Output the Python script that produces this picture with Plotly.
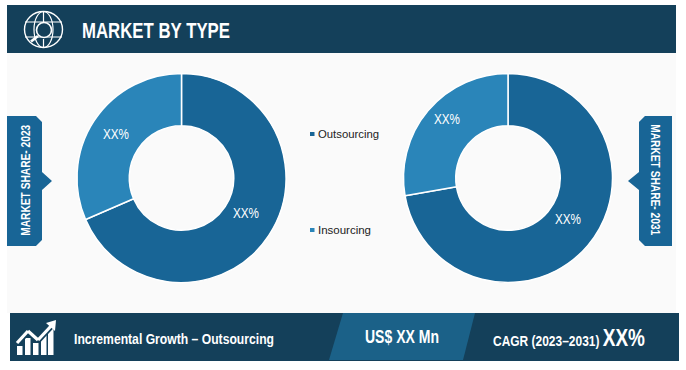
import json
import plotly.graph_objects as go

W, H = 686, 370
categories = ["Outsourcing", "Insourcing"]
share_2023 = [68.5, 31.5]
share_2031 = [72.3, 27.7]
slice_labels = ["XX%", "XX%"]
title_text = "MARKET BY TYPE"
left_tag = "MARKET SHARE- 2023"
right_tag = "MARKET SHARE- 2031"
bar_left = "Incremental Growth – Outsourcing"
bar_mid = "US$ XX Mn"
bar_cagr = "CAGR (2023–2031)"
bar_cagr_val = "XX%"

NAVY = "#14405a"
MID = "#1b6188"
DARK = "#186596"
LIGHT = "#2a85b9"
FONT = "Liberation Sans, Arial"

def px(x): return x / W
def py(y): return 1 - y / H
def path(pts):
    return "M" + " L".join(f"{px(x):.5f},{py(y):.5f}" for x, y in pts) + " Z"

shapes = []
def poly(pts, color, layer="below"):
    shapes.append(dict(type="path", xref="paper", yref="paper", path=path(pts),
                       fillcolor=color, line=dict(width=0), layer=layer))
def rect(x0, y0, x1, y1, color, layer="below"):
    shapes.append(dict(type="rect", xref="paper", yref="paper", x0=px(x0), x1=px(x1),
                       y0=py(y0), y1=py(y1), fillcolor=color, line=dict(width=0), layer=layer))
def line(x0, y0, x1, y1, w=1.4, color="white"):
    shapes.append(dict(type="line", xref="paper", yref="paper", x0=px(x0), x1=px(x1),
                       y0=py(y0), y1=py(y1), line=dict(color=color, width=w), layer="above"))
def ell(cx, cy, rx, ry, w=1.4, fill="rgba(0,0,0,0)"):
    shapes.append(dict(type="circle", xref="paper", yref="paper", x0=px(cx-rx), x1=px(cx+rx),
                       y0=py(cy-ry), y1=py(cy+ry), line=dict(color="white", width=w),
                       fillcolor=fill, layer="above"))

# panel, header, footer
rect(7, 53, 676, 313, "#fafafa")
rect(7, 5, 676, 53, NAVY)
rect(10, 313, 679, 361, NAVY)
poly([(343, 313), (475, 313), (463, 360), (329, 360)], MID)

# side tags
poly([(7,116),(36,116),(42,122),(42,172),(52,181),(42,190),(42,240),(36,246),(7,246)], DARK)
poly([(672,116),(645,116),(639,122),(639,172),(628,181),(639,190),(639,240),(645,246),(672,246)], DARK)

# globe icon
ell(43.5, 29.5, 19, 18)
ell(43.5, 29.5, 9.5, 18, 1.2)
line(25, 22, 62, 22, 1.2); line(25, 37, 62, 37, 1.2)
line(43.5, 11.5, 43.5, 22, 1.2); line(43.5, 39, 43.5, 47.5, 1.2)
ell(44, 30, 7.5, 7.5, 1.6, NAVY)
line(38, 36, 31, 41.5, 2.8)

# chart icon
for x0, top in [(17, 346), (25, 338), (33, 343), (41, 335), (48, 327)]:
    rect(x0, top, x0 + 5.5, 355, "white", "above")
for a, b, c, d in [(17, 343, 28, 331), (28, 331, 38, 340), (38, 340, 52, 325)]:
    line(a, b, c, d, 6.5, NAVY)
for a, b, c, d in [(17, 343, 28, 331), (28, 331, 38, 340), (38, 340, 52, 325)]:
    line(a, b, c, d, 3.2)
poly([(56, 320), (55, 331), (46, 323)], "white", "above")

# legend markers
rect(310, 132, 314.5, 136, DARK, "above")
rect(310, 228, 314.5, 232, LIGHT, "above")

ann = []
lengths = []
def text(cx, cy, s, size, length, color="white", weight=400, angle=0):
    """Real text centred at (cx, cy), fitted to the reference's narrow lettering."""
    ann.append(dict(xref="paper", yref="paper", x=px(cx), y=py(cy), text=s, width=length + 2,
                    showarrow=False, xanchor="center", yanchor="middle", textangle=angle,
                    font=dict(family=FONT, size=size, color=color, weight=weight)))
    lengths.append(length)

text(156, 30, title_text, 22, 148, weight=700)
text(174, 338, bar_left, 15, 200, weight=700)
text(402, 337, bar_mid, 18, 74, weight=700)
text(569, 338, f"{bar_cagr} <span style='font-size:23px'>{bar_cagr_val}</span>", 14.5, 152, weight=700)
text(25, 180.5, left_tag, 13.5, 111, weight=700, angle=-90)
text(655, 179.5, right_tag, 13.5, 111, weight=700, angle=90)
text(348.3, 134, categories[0], 11.5, 61, color="#222")
text(344.5, 230, categories[1], 11.5, 53, color="#222")
text(116, 134, slice_labels[1], 14, 26)
text(246, 213, slice_labels[0], 14, 26)
text(447, 119, slice_labels[1], 14, 26)
text(568, 219, slice_labels[0], 14, 26)

def pie(vals, x0, x1, y0, y1):
    return go.Pie(labels=categories, values=vals, hole=0.5, sort=False, direction="clockwise",
                  rotation=0, textinfo="none", showlegend=False,
                  marker=dict(colors=[DARK, LIGHT], line=dict(color="white", width=1.5)),
                  domain=dict(x=[px(x0), px(x1)], y=[py(y1), py(y0)]))

fig = go.Figure([pie(share_2023, 77, 286, 73, 283), pie(share_2031, 403.5, 612.5, 73, 283)])
fig.update_layout(width=W, height=H, autosize=False, margin=dict(l=0, r=0, t=0, b=0),
                  paper_bgcolor="white", plot_bgcolor="white", shapes=shapes, annotations=ann)

post = """
document.body.style.margin='0';document.body.style.overflow='hidden';
var L=%s;
document.querySelectorAll('.annotation-text').forEach(function(t,i){
  if(L[i]){t.setAttribute('textLength',L[i]);t.setAttribute('lengthAdjust','spacingAndGlyphs');}
});
""" % json.dumps(lengths)
fig.write_html("out.html", config=dict(displayModeBar=False, staticPlot=True), post_script=post)
